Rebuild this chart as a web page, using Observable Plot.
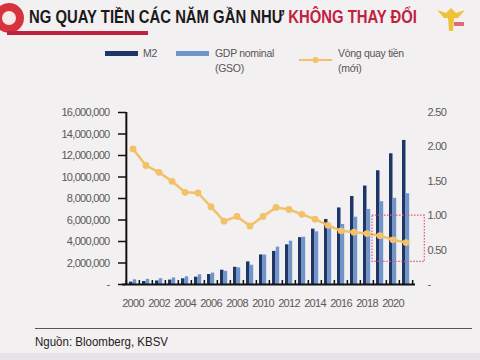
<!DOCTYPE html>
<html>
<head>
<meta charset="utf-8">
<script src="https://cdn.jsdelivr.net/npm/d3@7"></script>
<script src="https://cdn.jsdelivr.net/npm/@observablehq/plot@0.6"></script>
<style>
  html, body { margin: 0; padding: 0; background: #f3f0f2; }
  #wrap { position: relative; width: 480px; height: 360px; overflow: hidden; background: #f3f0f2;
          font-family: "Liberation Sans", Arial, sans-serif; }
  #chart { position: absolute; left: 0; top: 0; }
  .abs { position: absolute; white-space: nowrap; }
  #title { left: 29px; top: 6px; font-size: 19px; font-weight: bold; color: #1a1a1a; transform-origin: 0 0; }
  #title .red { color: #c0213f; }
  #bar { left: 7px; top: 31px; width: 141px; height: 4px; background: #c0213f; }
  #logoL { left: -6px; top: 3px; width: 30px; height: 30px; border-radius: 50%; background: #d6323f; }
  #logoL::after { content: ""; position: absolute; left: 8px; top: 8px; width: 14px; height: 14px; border-radius: 50%; background: #f6e9e6; }
  .leg { font-size: 10.5px; color: #555; line-height: 14.5px; letter-spacing: -0.3px; }
  .sw { position: absolute; height: 5px; width: 33px; }
  #src { left: 35px; top: 334px; font-size: 13px; color: #222; transform-origin: 0 0; }
  #rule { left: 35px; top: 328px; width: 437px; height: 1px; background: #555; }
  #strip { left: 0; top: 353px; width: 480px; height: 7px; background: #e6e4e6; }
</style>
</head>
<body>
<div id="wrap">
  <div id="chart"></div>
  <div id="logoL" class="abs"></div>
  <div id="title" class="abs">NG QUAY TIỀN CÁC NĂM GẦN NHƯ <span class="red">KHÔNG THAY ĐỔI</span></div>
  <div id="bar" class="abs"></div>
  <svg class="abs" style="left:434px;top:4px" width="34" height="30">
    <path d="M3 6 L12 9 L17 4 L22 9 L31 6 L24 14 L20 14 L19 27 L15 27 L14 14 L10 14 Z" fill="#f0c23a"/>
    <path d="M20 18 L30 18 L30 22 L20 22 Z" fill="#d6323f" opacity="0.7"/>
  </svg>
  <div id="legend"></div>
  <div id="rule" class="abs"></div>
  <div id="src" class="abs">Nguồn: Bloomberg, KBSV</div>
  <div id="strip" class="abs"></div>
</div>
<script>
const years = ["2000","2001","2002","2003","2004","2005","2006","2007","2008","2009","2010",
               "2011","2012","2013","2014","2015","2016","2017","2018","2019","2020","2021"];
// values in millions (billion VND)
const m2  = [0.22,0.28,0.33,0.41,0.53,0.68,0.93,1.33,1.60,2.10,2.75,3.08,3.69,4.36,5.15,6.05,7.12,8.19,9.16,10.58,12.16,13.40];
const gdp = [0.44,0.48,0.54,0.61,0.72,0.90,1.06,1.22,1.55,1.79,2.74,3.47,4.03,4.40,4.90,5.19,5.58,6.26,6.98,7.70,8.02,8.44];
const vel = [1.97,1.73,1.63,1.50,1.34,1.33,1.13,0.92,0.99,0.85,0.99,1.12,1.09,1.02,0.95,0.86,0.78,0.76,0.74,0.71,0.65,0.61];
const leftTicks  = [0,2e6,4e6,6e6,8e6,10e6,12e6,14e6,16e6];
const rightTicks = [0,0.5,1.0,1.5,2.0,2.5];
const xLabels = ["2000","2002","2004","2006","2008","2010","2012","2014","2016","2018","2020"];
const seriesNames = ["M2", "GDP nominal|(GSO)", "Vòng quay tiền|(mới)"];
const colors = ["#1e3567", "#6e96cc", "#f2c168"];
const highlight = {from: "2019", to: "2021", low: 0.33, high: 1.0};

const data = years.map((y, i) => ({year: y, m2: m2[i] * 1e6, gdp: gdp[i] * 1e6, vel: vel[i]}));
const k = 16e6 / 2.5; // right-axis factor

const W = 480, H = 360, mL = 122, mR = 65, mT = 112, mB = 76;
const bw = (W - mL - mR) / years.length;
const tickLen = 4 / (H - mT - mB) * 16e6;
const font = '"Liberation Sans", Arial, sans-serif';

const plot = Plot.plot({
  width: W, height: H,
  marginLeft: mL, marginRight: mR, marginTop: mT, marginBottom: mB,
  style: {background: "transparent", fontFamily: font, fontSize: "11px", letterSpacing: "-0.7px", color: "#595959", overflow: "visible"},
  x: {type: "band", domain: years, padding: 0, axis: null},
  y: {domain: [0, 16e6], axis: null},
  marks: [
    Plot.barY(data, {x: "year", y: "m2", fill: colors[0], insetLeft: 3, insetRight: 6.5}),
    Plot.barY(data, {x: "year", y: "gdp", fill: colors[1], insetLeft: 6.8, insetRight: 2.8}),
    Plot.ruleX(years, {x: d => d, dx: -bw / 2, y1: 0, y2: tickLen, stroke: "#111", strokeWidth: 1.5}),
    Plot.ruleX([years[years.length - 1]], {x: d => d, dx: bw / 2, y1: 0, y2: tickLen, stroke: "#111", strokeWidth: 1.5}),
    Plot.ruleY([0], {stroke: "#111", strokeWidth: 2}),
    Plot.ruleX([years[0]], {x: d => d, dx: -bw / 2, y1: 0, y2: 16e6, stroke: "#111", strokeWidth: 2}),
    Plot.axisY({ticks: leftTicks, tickSize: 8, dx: 4, tickFormat: () => "", stroke: "#111", strokeWidth: 1.5, label: null}),
    Plot.axisY({ticks: leftTicks, tickSize: 0, tickPadding: 13, label: null, fill: "#595959",
                tickFormat: d => d === 0 ? "-" : d3.format(",")(d)}),
    Plot.axisY({anchor: "right", ticks: rightTicks.map(v => v * k), tickSize: 0, tickPadding: 12, label: null, fill: "#595959",
                tickFormat: d => d === 0 ? "-" : (d / k).toFixed(2)}),
    Plot.axisX({ticks: xLabels, tickSize: 0, tickPadding: 15, label: null, fill: "#595959"}),
    Plot.line(data, {x: "year", y: d => d.vel * k, stroke: colors[2], strokeWidth: 2.5}),
    Plot.dot(data, {x: "year", y: d => d.vel * k, r: 3.4, fill: colors[2], stroke: "none"})
  ]
});
document.getElementById("chart").appendChild(plot);

// dotted highlight box (annotation), placed through the plot's own scales
const xs = plot.scale("x"), ys = plot.scale("y");
const hx1 = xs.apply(highlight.from) - 1, hx2 = xs.apply(highlight.to) + bw + 12;
const hy1 = ys.apply(highlight.high * k), hy2 = ys.apply(highlight.low * k);
d3.select(plot).append("rect")
  .attr("x", hx1).attr("y", hy1).attr("width", hx2 - hx1).attr("height", hy2 - hy1)
  .attr("fill", "none").attr("stroke", "#e0587a").attr("stroke-width", 1.2).attr("stroke-dasharray", "1.5,1.5");

// legend
const leg = document.getElementById("legend");
const legPos = [105, 176, 299];
seriesNames.forEach((name, i) => {
  const sw = document.createElement("div");
  sw.className = "sw";
  sw.style.left = legPos[i] + "px";
  if (i < 2) { sw.style.top = "51px"; sw.style.background = colors[i]; }
  else {
    sw.style.top = "49.5px"; sw.style.height = "8px";
    sw.innerHTML = `<svg width="33" height="8"><line x1="0" y1="4" x2="33" y2="4" stroke="${colors[2]}" stroke-width="2"/><circle cx="16.5" cy="4" r="3" fill="${colors[2]}"/></svg>`;
  }
  leg.appendChild(sw);
  const t = document.createElement("div");
  t.className = "abs leg";
  t.style.left = (legPos[i] + (i === 0 ? 38 : i === 1 ? 39 : 39)) + "px";
  t.style.top = "46px";
  t.innerHTML = name.split("|").join("<br>");
  leg.appendChild(t);
});

// fit title and source to their widths in the reference
function fit(id, target) {
  const el = document.getElementById(id);
  const w = el.getBoundingClientRect().width;
  if (w > 0) el.style.transform = `scaleX(${target / w})`;
}
fit("title", 388);
fit("src", 133);
</script>
</body>
</html>
